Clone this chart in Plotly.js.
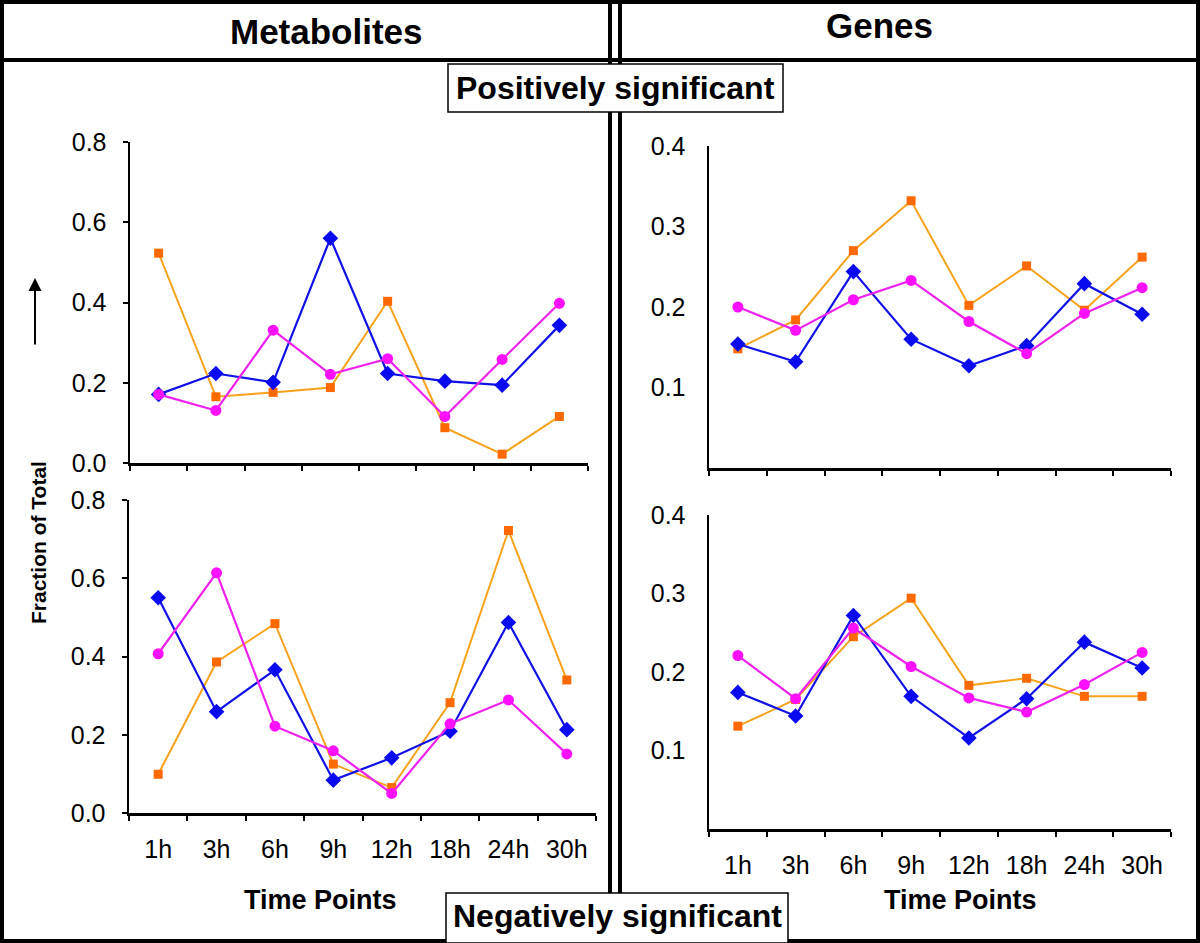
<!DOCTYPE html>
<html>
<head>
<meta charset="utf-8">
<script src="https://cdn.plot.ly/plotly-3.0.1.min.js"></script>
<style>html,body{margin:0;padding:0;background:#fff;}#chart{width:1200px;height:943px;}</style>
</head>
<body>
<div id="chart"></div>
<script>
const times = ['1h','3h','6h','9h','12h','18h','24h','30h'];

// Metabolites, positively significant
const metPosOrange  = [0.523,0.165,0.176,0.188,0.403,0.088,0.022,0.116];
const metPosBlue    = [0.171,0.223,0.201,0.560,0.223,0.204,0.194,0.343];
const metPosMagenta = [0.171,0.131,0.331,0.221,0.260,0.116,0.258,0.398];
// Metabolites, negatively significant
const metNegOrange  = [0.099,0.386,0.484,0.125,0.065,0.282,0.722,0.340];
const metNegBlue    = [0.550,0.259,0.366,0.084,0.141,0.209,0.487,0.213];
const metNegMagenta = [0.407,0.614,0.222,0.159,0.050,0.228,0.289,0.151];
// Genes, positively significant
const genPosOrange  = [0.148,0.184,0.270,0.332,0.202,0.251,0.196,0.262];
const genPosBlue    = [0.154,0.132,0.244,0.160,0.127,0.152,0.229,0.191];
const genPosMagenta = [0.200,0.171,0.209,0.233,0.182,0.142,0.192,0.224];
// Genes, negatively significant
const genNegOrange  = [0.131,0.165,0.245,0.294,0.183,0.192,0.169,0.169];
const genNegBlue    = [0.174,0.144,0.272,0.169,0.116,0.166,0.238,0.205];
const genNegMagenta = [0.221,0.166,0.256,0.207,0.167,0.149,0.184,0.225];

const leftTicks = [0, 0.2, 0.4, 0.6, 0.8];
const rightTicks = [0.1, 0.2, 0.3, 0.4];

const W = 1200, H = 943;
const px = v => v / W;
const py = v => 1 - v / H;

const styles = {
  orange:  {line:{color:'#F7A21B', width:2}, marker:{symbol:'square', size:9, color:'#FF6A00'}},
  blue:    {line:{color:'#1010E8', width:2.2}, marker:{symbol:'diamond', size:12, color:'#0A0AF0'}},
  magenta: {line:{color:'#EE22EE', width:2.2}, marker:{symbol:'circle', size:11, color:'#FF10FF'}}
};

function tr(y, key, xa, ya) {
  return Object.assign({x: times, y: y, type:'scatter', mode:'lines+markers',
    xaxis: xa, yaxis: ya, showlegend:false, hoverinfo:'skip', cliponaxis:false}, JSON.parse(JSON.stringify(styles[key])));
}

const data = [
  tr(metPosOrange,'orange','x','y'), tr(metPosBlue,'blue','x','y'), tr(metPosMagenta,'magenta','x','y'),
  tr(metNegOrange,'orange','x2','y2'), tr(metNegBlue,'blue','x2','y2'), tr(metNegMagenta,'magenta','x2','y2'),
  tr(genPosOrange,'orange','x3','y3'), tr(genPosBlue,'blue','x3','y3'), tr(genPosMagenta,'magenta','x3','y3'),
  tr(genNegOrange,'orange','x4','y4'), tr(genNegBlue,'blue','x4','y4'), tr(genNegMagenta,'magenta','x4','y4')
];

const tickFont = {family:'Liberation Sans, Arial, sans-serif', size:25, color:'#000'};

function xax(dom, anchor, labels) {
  return {domain: dom, anchor: anchor, type:'category', range:[-0.5, 7.5],
    showline:true, linecolor:'#000', linewidth:2.5, showgrid:false, zeroline:false,
    ticks:'outside', ticklen:5, tickwidth:2, tickcolor:'#000', tickson:'boundaries',
    showticklabels: labels, tickfont: tickFont, ticklabelstandoff: 12};
}
function yax(dom, anchor, range, tv, showTicks) {
  return {domain: dom, anchor: anchor, range: range, tickvals: tv, tickformat:'.1f',
    showline:true, linecolor:'#000', linewidth:2.5, showgrid:false, zeroline:false,
    ticks: showTicks ? 'outside' : '', ticklen:5, tickwidth:2, tickcolor:'#000',
    tickfont: tickFont, ticklabelstandoff: showTicks ? 11 : 16};
}

const bold = (size) => ({family:'Liberation Sans, Arial, sans-serif', size:size, color:'#000', weight:'bold'});

const layout = {
  width: W, height: H, margin:{l:0,r:0,t:0,b:0},
  paper_bgcolor:'#fff', plot_bgcolor:'rgba(0,0,0,0)',
  xaxis:  xax([px(130), px(588)], 'y', false),
  yaxis:  yax([py(463), py(142)], 'x', [0, 0.8], leftTicks, true),
  xaxis2: xax([px(129), px(596)], 'y2', true),
  yaxis2: yax([py(813), py(500)], 'x2', [0, 0.8], leftTicks, true),
  xaxis3: xax([px(709), px(1171)], 'y3', false),
  yaxis3: yax([py(468), py(146)], 'x3', [0, 0.4], rightTicks, false),
  xaxis4: xax([px(709), px(1171)], 'y4', true),
  yaxis4: yax([py(829), py(515)], 'x4', [0, 0.4], rightTicks, false),
  shapes: [
    // outer frame
    {type:'rect', xref:'paper', yref:'paper', x0:px(2), x1:px(1198), y0:py(941), y1:py(2), line:{color:'#000', width:4}},
    // header band bottom line
    {type:'line', xref:'paper', yref:'paper', x0:0, x1:1, y0:py(60), y1:py(60), line:{color:'#000', width:4}},
    // double vertical divider
    {type:'line', xref:'paper', yref:'paper', x0:px(610), x1:px(610), y0:py(0), y1:py(893), line:{color:'#000', width:4}},
    {type:'line', xref:'paper', yref:'paper', x0:px(620), x1:px(620), y0:py(0), y1:py(893), line:{color:'#000', width:4}},
    // label boxes
    {type:'rect', xref:'paper', yref:'paper', x0:px(448), x1:px(783), y0:py(112), y1:py(64), fillcolor:'#fff', line:{color:'#000', width:1.5}, layer:'above'},
    {type:'rect', xref:'paper', yref:'paper', x0:px(446), x1:px(788), y0:py(943), y1:py(893), fillcolor:'#fff', line:{color:'#000', width:1.5}, layer:'above'}
  ],
  annotations: [
    {xref:'paper', yref:'paper', x:px(326), y:py(31), text:'Metabolites', showarrow:false, font:bold(35), xanchor:'center', yanchor:'middle'},
    {xref:'paper', yref:'paper', x:px(880), y:py(25), text:'Genes', showarrow:false, font:bold(35), xanchor:'center', yanchor:'middle'},
    {xref:'paper', yref:'paper', x:px(615), y:py(88), text:'Positively significant', showarrow:false, font:bold(32), xanchor:'center', yanchor:'middle'},
    {xref:'paper', yref:'paper', x:px(617), y:py(916), text:'Negatively significant', showarrow:false, font:bold(32), xanchor:'center', yanchor:'middle'},
    {xref:'paper', yref:'paper', x:px(320), y:py(900), text:'Time Points', showarrow:false, font:bold(27), xanchor:'center', yanchor:'middle'},
    {xref:'paper', yref:'paper', x:px(960), y:py(900), text:'Time Points', showarrow:false, font:bold(27), xanchor:'center', yanchor:'middle'},
    {xref:'paper', yref:'paper', x:px(38), y:py(543), text:'Fraction of Total', showarrow:false, textangle:-90,
      font:bold(21), xanchor:'center', yanchor:'middle'},
    {xref:'paper', yref:'paper', x:px(35), y:py(278), text:'', showarrow:true, axref:'pixel', ayref:'pixel', ax:0, ay:68,
      arrowhead:2, arrowsize:1.3, arrowwidth:2, arrowcolor:'#000'}
  ]
};

Plotly.newPlot('chart', data, layout, {displayModeBar:false, staticPlot:true});
</script>
</body>
</html>
